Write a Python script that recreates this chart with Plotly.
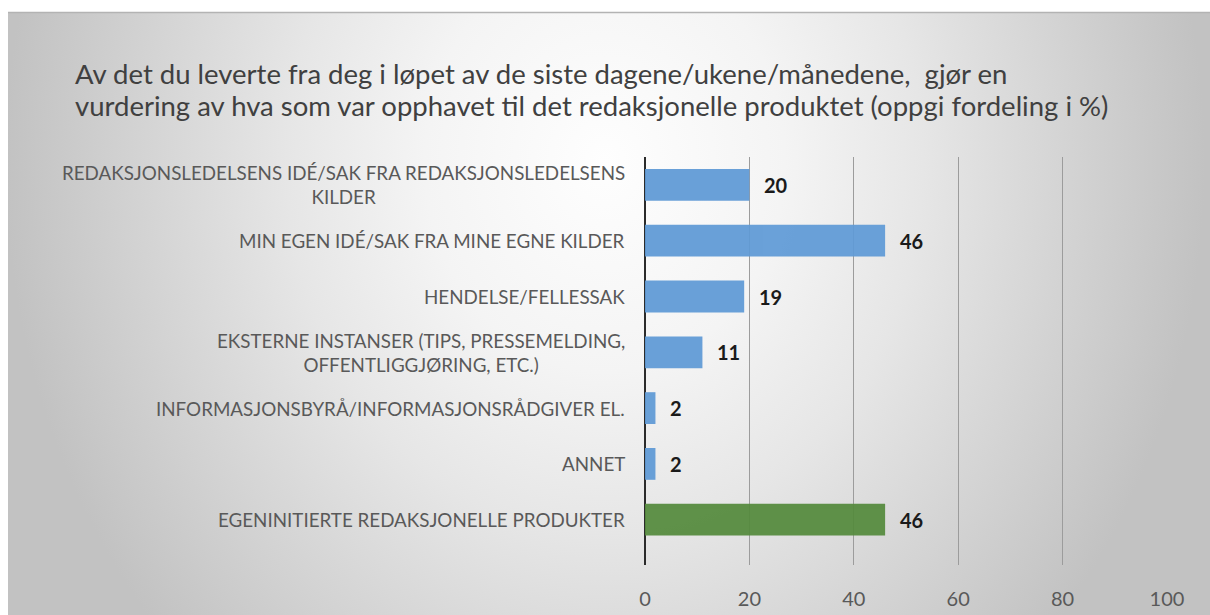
import base64
import plotly.graph_objects as go

# ---- data -------------------------------------------------------------
categories = [
    "REDAKSJONSLEDELSENS IDÉ/SAK FRA REDAKSJONSLEDELSENS<br>KILDER",
    "MIN EGEN IDÉ/SAK FRA MINE EGNE KILDER",
    "HENDELSE/FELLESSAK",
    "EKSTERNE INSTANSER (TIPS, PRESSEMELDING,<br>OFFENTLIGGJØRING, ETC.)",
    "INFORMASJONSBYRÅ/INFORMASJONSRÅDGIVER EL.",
    "ANNET",
    "EGENINITIERTE REDAKSJONELLE PRODUKTER",
]
values = [20, 46, 19, 11, 2, 2, 46]
x_ticks = [0, 20, 40, 60, 80, 100]
title_lines = [
    "Av det du leverte fra deg i løpet av de siste dagene/ukene/månedene,  gjør en",
    "vurdering av hva som var opphavet til det redaksjonelle produktet (oppgi fordeling i %)",
]

# ---- styling ----------------------------------------------------------
BLUE = "#5f9ad6"
GREEN = "#548a3c"
bar_colors = [BLUE] * 6 + [GREEN]
FONT = "Lato"

W, H = 1210, 615
L, R, T, B = 645, 43, 157, 50
PW, PH = W - L - R, H - T - B
ROW = 55.8  # pixel height of one category row


def px(xp):
    """figure pixel x -> paper x"""
    return (xp - L) / PW


def py(yp):
    """figure pixel y (from top) -> paper y"""
    return (H - B - yp) / PH


# radial grey backdrop of the chart panel
panel_w, panel_h = W - 8, H - 12
svg = f"""<svg xmlns='http://www.w3.org/2000/svg' width='{panel_w}' height='{panel_h}'>
<defs><radialGradient id='g' gradientUnits='userSpaceOnUse' cx='0' cy='0' r='1'
 gradientTransform='translate(597,150) scale(600,700)'>
<stop offset='0' stop-color='#fefefe'/>
<stop offset='0.3' stop-color='#f4f4f4'/>
<stop offset='0.53' stop-color='#e6e6e6'/>
<stop offset='0.66' stop-color='#dcdcdc'/>
<stop offset='1' stop-color='#c2c2c2'/>
</radialGradient></defs>
<rect x='0' y='0' width='{panel_w}' height='{panel_h}' fill='url(#g)'/>
</svg>"""
bg_uri = "data:image/svg+xml;base64," + base64.b64encode(svg.encode("utf-8")).decode("ascii")

fig = go.Figure()
fig.add_trace(go.Bar(
    x=values,
    y=categories,
    orientation="h",
    marker=dict(color=bar_colors, line=dict(width=0)),
    opacity=0.93,
    hoverinfo="skip",
))

annotations = []
# two-line chart heading
for line, ypix in zip(title_lines, [73, 105]):
    annotations.append(dict(
        x=px(73), xref="paper", y=py(ypix), yref="paper",
        xanchor="left", yanchor="middle",
        text=line, showarrow=False, align="left",
        font=dict(family=FONT, size=27.5, color="#404040"),
    ))
# category labels, centred multi-line text right-aligned against the axis
for cat in categories:
    annotations.append(dict(
        x=0, xref="paper", y=cat, yref="y",
        xanchor="right", yanchor="middle", xshift=-18,
        text=cat, showarrow=False, align="center",
        font=dict(family=FONT, size=18.8, color="#595959"),
    ))
# value labels next to each bar
for cat, v in zip(categories, values):
    annotations.append(dict(
        x=v, xref="x", y=cat, yref="y",
        xanchor="left", yanchor="middle", xshift=13,
        text=f"<b>{v}</b>", showarrow=False,
        font=dict(family=FONT, size=20, color="#1a1a1a"),
    ))

y_bottom = -0.5 + PH / ROW

fig.update_layout(
    width=W, height=H,
    margin=dict(l=L, r=R, t=T, b=B, pad=0, autoexpand=False),
    paper_bgcolor="white",
    plot_bgcolor="rgba(0,0,0,0)",
    showlegend=False,
    bargap=0.43,
    xaxis=dict(
        range=[0, 100],
        tickvals=x_ticks,
        ticktext=[str(t) for t in x_ticks],
        showgrid=True, gridcolor="#9c9c9c", gridwidth=1,
        zeroline=True, zerolinecolor="#2b2b2b", zerolinewidth=2,
        showline=False, ticks="",
        ticklabelstandoff=20,
        tickfont=dict(family=FONT, size=20, color="#595959"),
        automargin=False,
        fixedrange=True,
    ),
    yaxis=dict(
        categoryorder="array", categoryarray=categories,
        range=[y_bottom, -0.5],
        showticklabels=False, showgrid=False, zeroline=False, showline=False,
        ticks="", automargin=False, fixedrange=True,
    ),
    images=[dict(
        source=bg_uri, xref="paper", yref="paper",
        x=px(8), y=py(12), sizex=panel_w / PW, sizey=panel_h / PH,
        xanchor="left", yanchor="top", sizing="stretch", layer="below",
    )],
    shapes=[dict(
        type="line", xref="paper", yref="paper",
        x0=px(8), x1=px(W), y0=py(12.5), y1=py(12.5),
        line=dict(color="#b3b3b3", width=1.5),
    )],
    annotations=annotations,
)

fig.write_html("out.html")
